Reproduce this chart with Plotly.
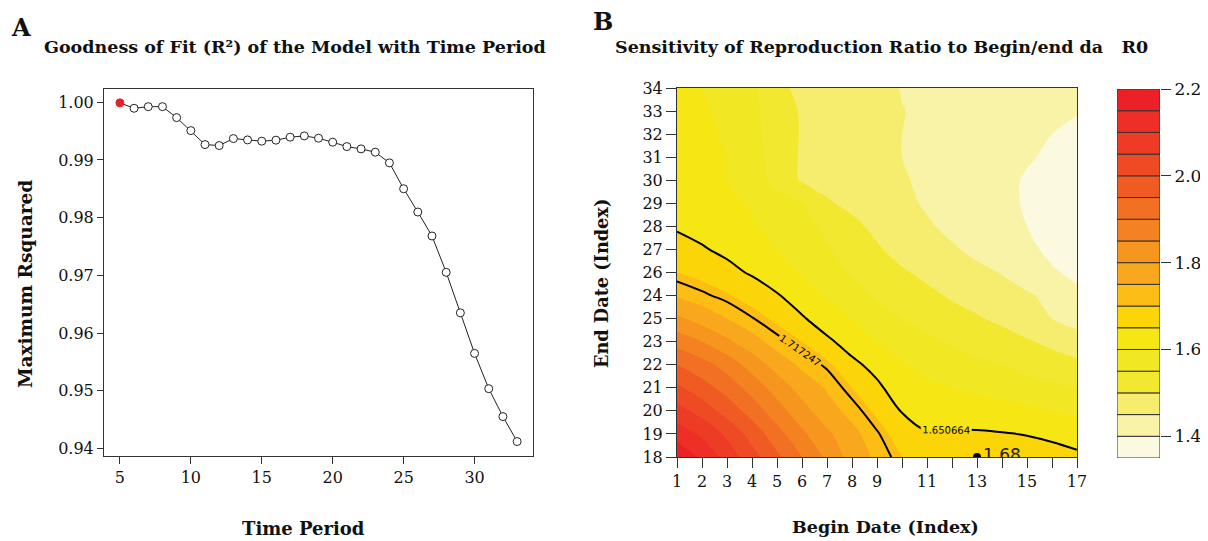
import plotly.graph_objects as go

# page is 1208x541; the browser puts the figure 8px in from the top-left corner
OX, OY = 8, 8
W, H = 1208 - OX, 541 - OY

# ---------------- Panel A data ----------------
time_period = list(range(5, 34))
max_rsq = [0.99990, 0.99896, 0.99924, 0.99924, 0.99734, 0.99509, 0.99267, 0.99250,
           0.99371, 0.99348, 0.99326, 0.99343, 0.99395, 0.99417, 0.99377, 0.99308,
           0.99232, 0.99192, 0.99135, 0.98950, 0.98501, 0.98098, 0.97683, 0.97053,
           0.96351, 0.95648, 0.95037, 0.94553, 0.94121]
rsq_ticks = [0.94, 0.95, 0.96, 0.97, 0.98, 0.99, 1.00]
time_ticks = [5, 10, 15, 20, 25, 30]

# ---------------- Panel B data ----------------
begin_idx = list(range(1, 18))
begin_labels = ["1", "2", "3", "4", "5", "6", "7", "8", "9", "", "11", "", "13", "", "15", "", "17"]
end_pos = list(range(18, 35))
end_labels = ["18", "19", "20", "21", "22", "23", "25", "24", "26", "27", "28",
              "29", "30", "31", "32", "33", "34"]

r0 = [
    [2.19, 2.14, 2.08, 2.02, 1.96, 1.90, 1.84, 1.78, 1.74, 1.70, 1.69, 1.685, 1.68, 1.675, 1.67, 1.665, 1.66],
    [2.13, 2.09, 2.04, 1.98, 1.92, 1.86, 1.81, 1.765, 1.722, 1.675, 1.653, 1.655, 1.656, 1.653, 1.649, 1.643, 1.63],
    [2.07, 2.03, 1.98, 1.93, 1.87, 1.82, 1.77, 1.735, 1.69, 1.648, 1.635, 1.63, 1.625, 1.62, 1.61, 1.60, 1.59],
    [2.01, 1.97, 1.93, 1.88, 1.83, 1.78, 1.745, 1.70, 1.66, 1.625, 1.61, 1.60, 1.59, 1.58, 1.57, 1.56, 1.55],
    [1.95, 1.92, 1.88, 1.83, 1.78, 1.74, 1.71, 1.662, 1.635, 1.605, 1.585, 1.57, 1.56, 1.55, 1.535, 1.52, 1.51],
    [1.88, 1.85, 1.81, 1.77, 1.73, 1.70, 1.66, 1.63, 1.60, 1.575, 1.56, 1.545, 1.53, 1.52, 1.505, 1.49, 1.475],
    [1.81, 1.78, 1.75, 1.72, 1.69, 1.656, 1.625, 1.60, 1.575, 1.55, 1.535, 1.515, 1.505, 1.49, 1.47, 1.45, 1.43],
    [1.745, 1.725, 1.705, 1.68, 1.655, 1.625, 1.595, 1.57, 1.545, 1.525, 1.51, 1.495, 1.48, 1.465, 1.455, 1.44, 1.41],
    [1.70, 1.685, 1.665, 1.645, 1.62, 1.595, 1.57, 1.545, 1.52, 1.505, 1.49, 1.475, 1.46, 1.448, 1.43, 1.405, 1.39],
    [1.67, 1.655, 1.64, 1.62, 1.60, 1.58, 1.555, 1.53, 1.505, 1.485, 1.47, 1.455, 1.44, 1.425, 1.41, 1.39, 1.38],
    [1.645, 1.635, 1.62, 1.605, 1.585, 1.565, 1.54, 1.51, 1.49, 1.47, 1.455, 1.44, 1.425, 1.41, 1.40, 1.385, 1.375],
    [1.635, 1.625, 1.61, 1.595, 1.575, 1.55, 1.505, 1.49, 1.475, 1.46, 1.445, 1.43, 1.42, 1.405, 1.398, 1.383, 1.375],
    [1.63, 1.62, 1.60, 1.58, 1.53, 1.495, 1.485, 1.475, 1.465, 1.455, 1.44, 1.43, 1.42, 1.408, 1.397, 1.385, 1.377],
    [1.625, 1.615, 1.60, 1.575, 1.525, 1.495, 1.485, 1.475, 1.463, 1.45, 1.44, 1.43, 1.42, 1.41, 1.403, 1.395, 1.39],
    [1.62, 1.61, 1.595, 1.57, 1.52, 1.497, 1.487, 1.477, 1.465, 1.45, 1.442, 1.434, 1.425, 1.415, 1.408, 1.40, 1.392],
    [1.615, 1.605, 1.59, 1.565, 1.515, 1.497, 1.488, 1.478, 1.466, 1.451, 1.444, 1.437, 1.43, 1.42, 1.413, 1.407, 1.402],
    [1.61, 1.60, 1.585, 1.56, 1.505, 1.495, 1.489, 1.479, 1.467, 1.448, 1.445, 1.44, 1.433, 1.425, 1.418, 1.412, 1.406],
]
contour_levels = [1.650664, 1.717247]
point_begin = [13]
point_end = [18]
point_label = ["1.68"]

band_levels = [1.35, 1.40, 1.45, 1.50, 1.55, 1.60, 1.65, 1.70, 1.75, 1.80, 1.85,
               1.90, 1.95, 2.00, 2.05, 2.10, 2.15, 2.20]
band_colors = ["#FCF9E1", "#F8F3A6", "#F6ED6E", "#F2E830", "#F1E723", "#F6E714",
               "#FCD509", "#FCBE15", "#F9A81D", "#F7961F", "#F58220", "#F27023",
               "#F05B24", "#EE4B25", "#EE3B26", "#EE2E27", "#EC2127"]
cbar_ticks = [1.4, 1.6, 1.8, 2.0, 2.2]
cbar_ticktext = ["1.4", "1.6", "1.8", "2.0", "2.2"]

SERIF = "DejaVu Serif"

# stepped colorscale
nb = len(band_colors)
cscale = []
for i, c in enumerate(band_colors):
    cscale.append([i / nb, c])
    cscale.append([(i + 1) / nb, c])

fig = go.Figure()

# Panel A
marker_fill = ["#E8212A"] + ["white"] * (len(time_period) - 1)
marker_edge = ["#E8212A"] + ["#222"] * (len(time_period) - 1)
fig.add_trace(go.Scatter(
    x=time_period, y=max_rsq, mode="lines+markers",
    line=dict(color="#222", width=1),
    marker=dict(size=8, color=marker_fill, line=dict(color=marker_edge, width=1)),
    xaxis="x", yaxis="y", showlegend=False, hoverinfo="x+y"))

# Panel B filled contour
fig.add_trace(go.Contour(
    x=begin_idx, y=end_pos, z=r0,
    zmin=band_levels[0], zmax=band_levels[-1],
    colorscale=cscale,
    contours=dict(start=band_levels[0], end=band_levels[-1], size=0.05,
                  coloring="fill", showlines=False),
    line=dict(width=0), showscale=False,
    xaxis="x2", yaxis="y2", hoverinfo="skip"))

for lv in contour_levels:
    fig.add_trace(go.Contour(
        x=begin_idx, y=end_pos, z=r0,
        contours=dict(start=lv, end=lv, size=1, coloring="none", showlabels=True,
                      labelfont=dict(size=10, color="black", family="DejaVu Sans"),
                      labelformat=".6f"),
        line=dict(color="black", width=2), showscale=False,
        xaxis="x2", yaxis="y2", hoverinfo="skip"))

fig.add_trace(go.Scatter(
    x=point_begin, y=point_end, mode="markers+text", text=point_label,
    textposition="middle right", textfont=dict(size=17, color="#222", family="DejaVu Sans"),
    marker=dict(size=8, color="black"), cliponaxis=True,
    xaxis="x2", yaxis="y2", showlegend=False))

# colour key
fig.add_trace(go.Bar(
    x=[0] * nb, y=[band_levels[i + 1] - band_levels[i] for i in range(nb)],
    base=band_levels[:-1], width=1,
    marker=dict(color=band_colors, line=dict(color="#333", width=1)),
    xaxis="x3", yaxis="y3", showlegend=False, hoverinfo="skip"))


def px_x(a, b):
    return [(a - OX) / W, (b - OX) / W]


def px_y(top, bottom):
    return [(H - (bottom - OY)) / H, (H - (top - OY)) / H]


tickfont = dict(family=SERIF, size=16, color="#111")
common = dict(showgrid=False, zeroline=False, showline=True, mirror=True,
              linecolor="#333", linewidth=1, ticks="outside", tickcolor="#333",
              tickfont=tickfont, automargin=False)

fig.update_layout(
    width=W, height=H, margin=dict(l=0, r=0, t=0, b=0, autoexpand=False),
    paper_bgcolor="white", plot_bgcolor="white", showlegend=False,
    barmode="overlay",
    xaxis=dict(domain=px_x(104, 533), range=[3.88, 34.12], tickvals=time_ticks,
               ticklen=7, **common),
    yaxis=dict(domain=px_y(89, 456), range=[0.9387, 1.0023], tickvals=rsq_ticks,
               tickformat=".2f", ticklen=6, **common),
    xaxis2=dict(domain=px_x(677, 1077), range=[1, 17], tickvals=begin_idx,
                ticktext=begin_labels, ticklen=10, anchor="y2", **common),
    yaxis2=dict(domain=px_y(88, 457), range=[18, 34], tickvals=end_pos,
                ticktext=end_labels, ticklen=10, anchor="x2", **common),
    xaxis3=dict(domain=px_x(1117, 1160), range=[-0.5, 0.5], visible=False, anchor="y3",
                automargin=False),
    yaxis3=dict(domain=px_y(89, 458), range=[band_levels[0], band_levels[-1]],
                tickvals=cbar_ticks, ticktext=cbar_ticktext,
                side="right", anchor="x3", ticks="outside", ticklen=10, tickcolor="#333",
                showgrid=False, zeroline=False, showline=False, automargin=False,
                tickfont=dict(family=SERIF, size=17, color="#111")),
)

annots = [
    dict(text="A", x=21, y=27, size=24),
    dict(text="B", x=603, y=22, size=24),
    dict(text="Goodness of Fit (R\u00b2) of the Model with Time Period", x=295, y=47, size=17.5),
    dict(text="Sensitivity of Reproduction Ratio to Begin/end da\u00a0\u00a0\u00a0R0", x=881, y=47, size=17.5),
    dict(text="Time Period", x=303, y=528, size=18),
    dict(text="Begin Date (Index)", x=885, y=527, size=17.5),
    dict(text="Maximum Rsquared", x=25, y=284, size=18.5),
    dict(text="End Date (Index)", x=601, y=284, size=17.7),
]
for a in annots:
    vertical = a["text"] in ("Maximum Rsquared", "End Date (Index)")
    fig.add_annotation(
        text=a["text"], x=(a["x"] - OX) / W, y=(H - (a["y"] - OY)) / H,
        xref="paper", yref="paper",
        showarrow=False, xanchor="center", yanchor="middle",
        textangle=-90 if vertical else 0,
        font=dict(family=SERIF, size=a["size"], color="#111", weight="bold"))

fig.write_html("out.html")
